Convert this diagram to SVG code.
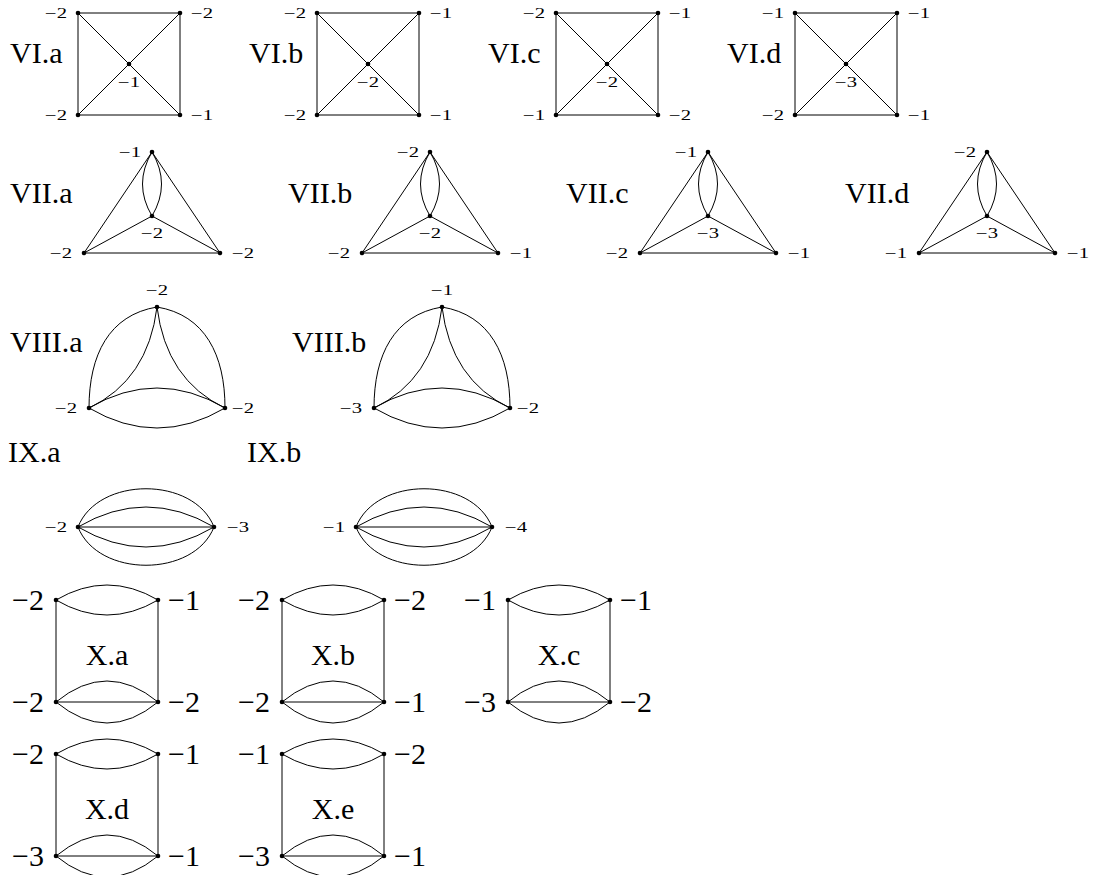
<svg xmlns="http://www.w3.org/2000/svg" width="1093" height="875" viewBox="0 0 1093 875">
<style>
.e{fill:none;stroke:#000;stroke-width:1}
.n{fill:#000}
.s{font-family:'Liberation Serif','DejaVu Serif','Times New Roman',serif;font-size:14px;fill:#000}
.b{font-family:'Liberation Serif','DejaVu Serif','Times New Roman',serif;font-size:30px;fill:#000}
.m{text-anchor:middle}
.r{text-anchor:end}
</style>
<rect width="1093" height="875" fill="#fff"/>
<defs>
<g id="sqE">
<path class="e" d="M0,0H102V102H0Z M0,0L102,102 M102,0L0,102"/>
</g>
<g id="sqN">
<circle class="n" cx="0" cy="0" r="2.3"/><circle class="n" cx="102" cy="0" r="2.3"/><circle class="n" cx="0" cy="102" r="2.3"/><circle class="n" cx="102" cy="102" r="2.3"/><circle class="n" cx="51" cy="51" r="2.3"/>
</g>
<g id="trE">
<path class="e" d="M0,0L-68,101H68Z M-68,101L0,64L68,101 M0,0Q-19,32 0,64 M0,0Q19,32 0,64"/>
</g>
<g id="trN">
<circle class="n" cx="0" cy="0" r="2.3"/><circle class="n" cx="0" cy="64" r="2.3"/><circle class="n" cx="-68" cy="101" r="2.3"/><circle class="n" cx="68" cy="101" r="2.3"/>
</g>
<g id="t8E">
<path class="e" d="M0,0C-48,8 -68,48 -68,101 M0,0C48,8 68,48 68,101 M0,0Q-9,73 -68,101 M0,0Q9,73 68,101 M-68,101Q0,61 68,101 M-68,101Q0,141 68,101"/>
</g>
<g id="t8N">
<circle class="n" cx="0" cy="0" r="2.3"/><circle class="n" cx="-68" cy="101" r="2.3"/><circle class="n" cx="68" cy="101" r="2.3"/>
</g>
<g id="t9E">
<path class="e" d="M0,0H136 M0,0Q68,-40 136,0 M0,0Q68,40 136,0 M0,0C20,-51 116,-51 136,0 M0,0C20,51 116,51 136,0"/>
</g>
<g id="t9N">
<circle class="n" cx="0" cy="0" r="2.3"/><circle class="n" cx="136" cy="0" r="2.3"/>
</g>
<g id="xE">
<path class="e" d="M0,0V102 M102,0V102 M0,0Q51,-30 102,0 M0,0Q51,30 102,0 M0,102H102 M0,102Q51,60 102,102 M0,102Q51,144 102,102"/>
</g>
<g id="xN">
<circle class="n" cx="0" cy="0" r="2.3"/><circle class="n" cx="102" cy="0" r="2.3"/><circle class="n" cx="0" cy="102" r="2.3"/><circle class="n" cx="102" cy="102" r="2.3"/>
</g>
</defs>

<g id="connectors">
<use href="#sqE" transform="translate(78,13)"/>
<use href="#sqE" transform="translate(317,13)"/>
<use href="#sqE" transform="translate(556,13)"/>
<use href="#sqE" transform="translate(795,13)"/>
<use href="#trE" transform="translate(152,152)"/>
<use href="#trE" transform="translate(430,152)"/>
<use href="#trE" transform="translate(708,152)"/>
<use href="#trE" transform="translate(987,152)"/>
<use href="#t8E" transform="translate(157,307)"/>
<use href="#t8E" transform="translate(442,307)"/>
<use href="#t9E" transform="translate(78,527)"/>
<use href="#t9E" transform="translate(356,527)"/>
<use href="#xE" transform="translate(56,600)"/>
<use href="#xE" transform="translate(282,600)"/>
<use href="#xE" transform="translate(508,600)"/>
<use href="#xE" transform="translate(56,754)"/>
<use href="#xE" transform="translate(282,754)"/>
</g>

<g id="VI-a" transform="translate(78,13)">
<use href="#sqN"/>
<text class="b" x="-68" y="50">VI.a</text>
<text class="s r" x="-11" y="5" textLength="22" lengthAdjust="spacingAndGlyphs">−2</text>
<text class="s" x="113" y="5" textLength="22" lengthAdjust="spacingAndGlyphs">−2</text>
<text class="s r" x="-11" y="107" textLength="22" lengthAdjust="spacingAndGlyphs">−2</text>
<text class="s" x="113" y="107" textLength="22" lengthAdjust="spacingAndGlyphs">−1</text>
<text class="s m" x="51" y="73.5" textLength="22" lengthAdjust="spacingAndGlyphs">−1</text>
</g>
<g id="VI-b" transform="translate(317,13)">
<use href="#sqN"/>
<text class="b" x="-68" y="50">VI.b</text>
<text class="s r" x="-11" y="5" textLength="22" lengthAdjust="spacingAndGlyphs">−2</text>
<text class="s" x="113" y="5" textLength="22" lengthAdjust="spacingAndGlyphs">−1</text>
<text class="s r" x="-11" y="107" textLength="22" lengthAdjust="spacingAndGlyphs">−2</text>
<text class="s" x="113" y="107" textLength="22" lengthAdjust="spacingAndGlyphs">−1</text>
<text class="s m" x="51" y="73.5" textLength="22" lengthAdjust="spacingAndGlyphs">−2</text>
</g>
<g id="VI-c" transform="translate(556,13)">
<use href="#sqN"/>
<text class="b" x="-68" y="50">VI.c</text>
<text class="s r" x="-11" y="5" textLength="22" lengthAdjust="spacingAndGlyphs">−2</text>
<text class="s" x="113" y="5" textLength="22" lengthAdjust="spacingAndGlyphs">−1</text>
<text class="s r" x="-11" y="107" textLength="22" lengthAdjust="spacingAndGlyphs">−1</text>
<text class="s" x="113" y="107" textLength="22" lengthAdjust="spacingAndGlyphs">−2</text>
<text class="s m" x="51" y="73.5" textLength="22" lengthAdjust="spacingAndGlyphs">−2</text>
</g>
<g id="VI-d" transform="translate(795,13)">
<use href="#sqN"/>
<text class="b" x="-68" y="50">VI.d</text>
<text class="s r" x="-11" y="5" textLength="22" lengthAdjust="spacingAndGlyphs">−1</text>
<text class="s" x="113" y="5" textLength="22" lengthAdjust="spacingAndGlyphs">−1</text>
<text class="s r" x="-11" y="107" textLength="22" lengthAdjust="spacingAndGlyphs">−2</text>
<text class="s" x="113" y="107" textLength="22" lengthAdjust="spacingAndGlyphs">−1</text>
<text class="s m" x="51" y="73.5" textLength="22" lengthAdjust="spacingAndGlyphs">−3</text>
</g>

<g id="VII-a" transform="translate(152,152)">
<use href="#trN"/>
<text class="b" x="-142" y="51">VII.a</text>
<text class="s r" x="-11" y="5" textLength="22" lengthAdjust="spacingAndGlyphs">−1</text>
<text class="s m" x="0" y="86" textLength="22" lengthAdjust="spacingAndGlyphs">−2</text>
<text class="s r" x="-80" y="106" textLength="22" lengthAdjust="spacingAndGlyphs">−2</text>
<text class="s" x="80" y="106" textLength="22" lengthAdjust="spacingAndGlyphs">−2</text>
</g>
<g id="VII-b" transform="translate(430,152)">
<use href="#trN"/>
<text class="b" x="-142" y="51">VII.b</text>
<text class="s r" x="-11" y="5" textLength="22" lengthAdjust="spacingAndGlyphs">−2</text>
<text class="s m" x="0" y="86" textLength="22" lengthAdjust="spacingAndGlyphs">−2</text>
<text class="s r" x="-80" y="106" textLength="22" lengthAdjust="spacingAndGlyphs">−2</text>
<text class="s" x="80" y="106" textLength="22" lengthAdjust="spacingAndGlyphs">−1</text>
</g>
<g id="VII-c" transform="translate(708,152)">
<use href="#trN"/>
<text class="b" x="-142" y="51">VII.c</text>
<text class="s r" x="-11" y="5" textLength="22" lengthAdjust="spacingAndGlyphs">−1</text>
<text class="s m" x="0" y="86" textLength="22" lengthAdjust="spacingAndGlyphs">−3</text>
<text class="s r" x="-80" y="106" textLength="22" lengthAdjust="spacingAndGlyphs">−2</text>
<text class="s" x="80" y="106" textLength="22" lengthAdjust="spacingAndGlyphs">−1</text>
</g>
<g id="VII-d" transform="translate(987,152)">
<use href="#trN"/>
<text class="b" x="-142" y="51">VII.d</text>
<text class="s r" x="-11" y="5" textLength="22" lengthAdjust="spacingAndGlyphs">−2</text>
<text class="s m" x="0" y="86" textLength="22" lengthAdjust="spacingAndGlyphs">−3</text>
<text class="s r" x="-80" y="106" textLength="22" lengthAdjust="spacingAndGlyphs">−1</text>
<text class="s" x="80" y="106" textLength="22" lengthAdjust="spacingAndGlyphs">−1</text>
</g>

<g id="VIII-a" transform="translate(157,307)">
<use href="#t8N"/>
<text class="b" x="-147" y="45">VIII.a</text>
<text class="s m" x="0" y="-12" textLength="22" lengthAdjust="spacingAndGlyphs">−2</text>
<text class="s r" x="-80" y="106" textLength="22" lengthAdjust="spacingAndGlyphs">−2</text>
<text class="s" x="75" y="106" textLength="22" lengthAdjust="spacingAndGlyphs">−2</text>
</g>
<g id="VIII-b" transform="translate(442,307)">
<use href="#t8N"/>
<text class="b" x="-150" y="45">VIII.b</text>
<text class="s m" x="0" y="-12" textLength="22" lengthAdjust="spacingAndGlyphs">−1</text>
<text class="s r" x="-80" y="106" textLength="22" lengthAdjust="spacingAndGlyphs">−3</text>
<text class="s" x="75" y="106" textLength="22" lengthAdjust="spacingAndGlyphs">−2</text>
</g>

<g id="IX-a" transform="translate(78,527)">
<use href="#t9N"/>
<text class="b" x="-70" y="-65">IX.a</text>
<text class="s r" x="-11" y="5" textLength="22" lengthAdjust="spacingAndGlyphs">−2</text>
<text class="s" x="149" y="5" textLength="22" lengthAdjust="spacingAndGlyphs">−3</text>
</g>
<g id="IX-b" transform="translate(356,527)">
<use href="#t9N"/>
<text class="b" x="-109" y="-65">IX.b</text>
<text class="s r" x="-11" y="5" textLength="22" lengthAdjust="spacingAndGlyphs">−1</text>
<text class="s" x="149" y="5" textLength="22" lengthAdjust="spacingAndGlyphs">−4</text>
</g>

<g id="X-a" transform="translate(56,600)">
<use href="#xN"/>
<text class="b m" x="51" y="65">X.a</text>
<text class="b r" x="-12" y="10">−2</text>
<text class="b" x="112" y="10">−1</text>
<text class="b r" x="-12" y="112">−2</text>
<text class="b" x="112" y="112">−2</text>
</g>
<g id="X-b" transform="translate(282,600)">
<use href="#xN"/>
<text class="b m" x="51" y="65">X.b</text>
<text class="b r" x="-12" y="10">−2</text>
<text class="b" x="112" y="10">−2</text>
<text class="b r" x="-12" y="112">−2</text>
<text class="b" x="112" y="112">−1</text>
</g>
<g id="X-c" transform="translate(508,600)">
<use href="#xN"/>
<text class="b m" x="51" y="65">X.c</text>
<text class="b r" x="-12" y="10">−1</text>
<text class="b" x="112" y="10">−1</text>
<text class="b r" x="-12" y="112">−3</text>
<text class="b" x="112" y="112">−2</text>
</g>
<g id="X-d" transform="translate(56,754)">
<use href="#xN"/>
<text class="b m" x="51" y="65">X.d</text>
<text class="b r" x="-12" y="10">−2</text>
<text class="b" x="112" y="10">−1</text>
<text class="b r" x="-12" y="112">−3</text>
<text class="b" x="112" y="112">−1</text>
</g>
<g id="X-e" transform="translate(282,754)">
<use href="#xN"/>
<text class="b m" x="51" y="65">X.e</text>
<text class="b r" x="-12" y="10">−1</text>
<text class="b" x="112" y="10">−2</text>
<text class="b r" x="-12" y="112">−3</text>
<text class="b" x="112" y="112">−1</text>
</g>
</svg>
